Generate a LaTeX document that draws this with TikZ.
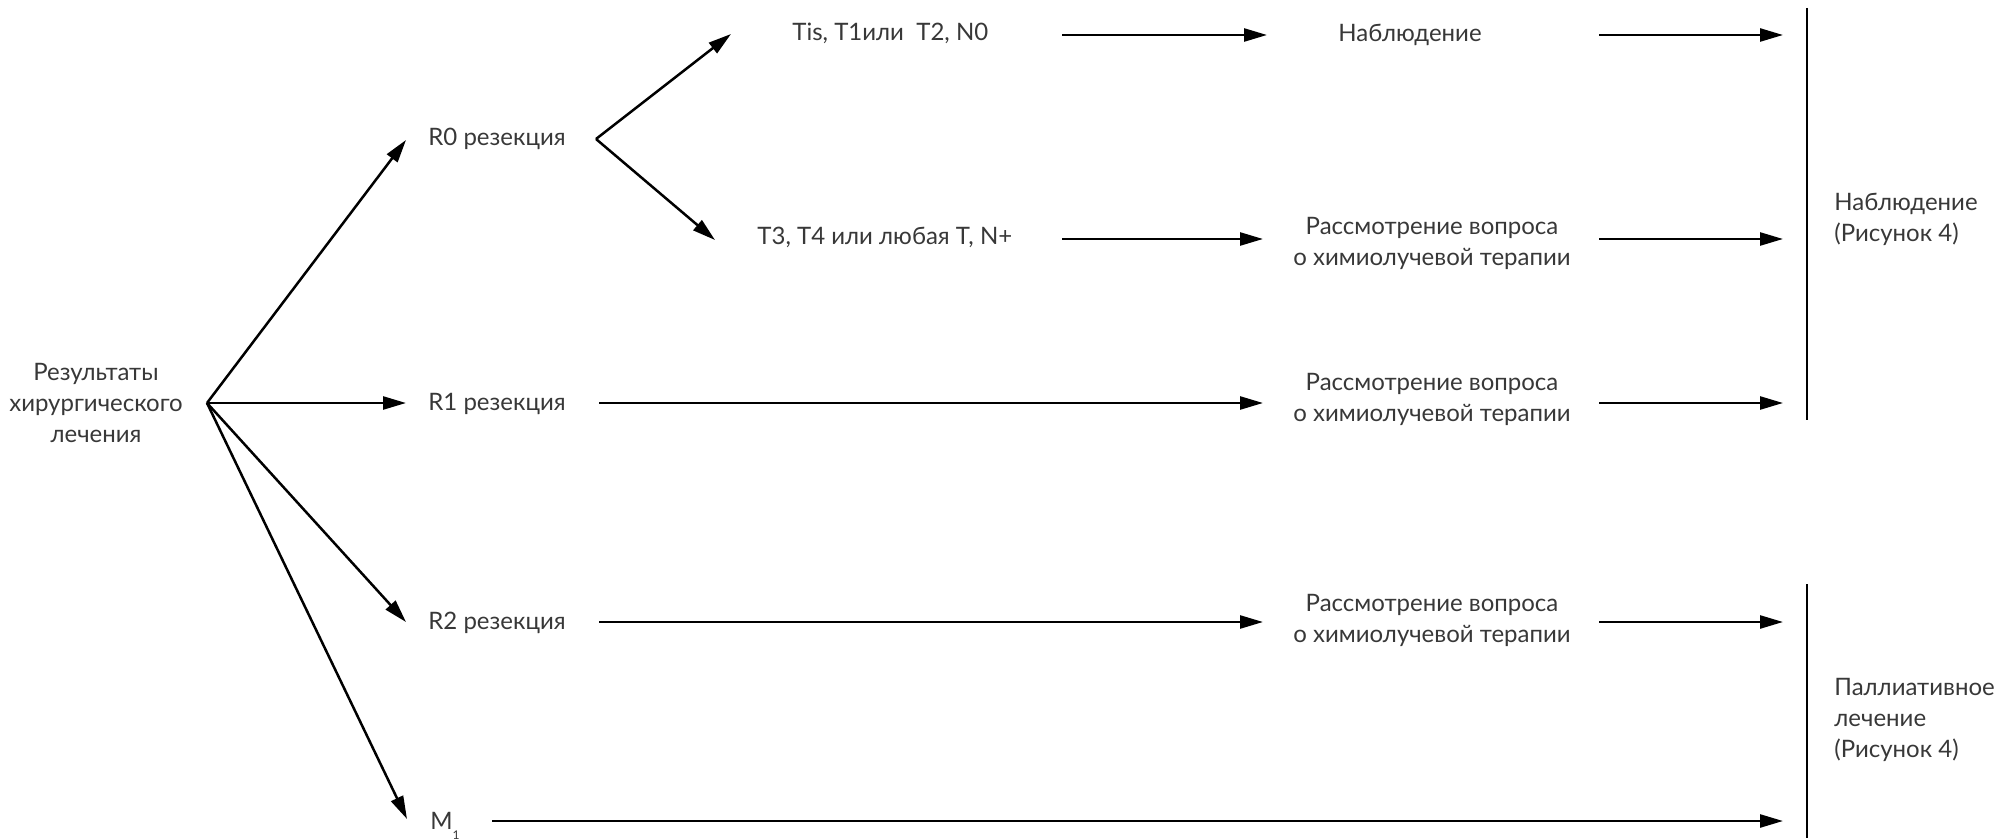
\documentclass[tikz,border=0pt]{standalone}
\usepackage{fontspec}
\setmainfont{Lato}
\usetikzlibrary{arrows.meta}
\begin{document}
\begin{tikzpicture}[x=0.5pt,y=-0.5pt,
  lbl/.style={inner sep=0pt, font=\fontsize{12}{15.5}\selectfont, text=black!78},
  arr/.style={line width=1.25pt, -{Triangle[length=11.5pt,width=6.5pt]}},
  bar/.style={line width=1.4pt}]
\useasboundingbox (0,0) rectangle (2011,839);
% nodes
\node[lbl, align=center] (root) at (96,403) {Результаты\\хирургического\\лечения};
\coordinate (apex) at (207,403);
\node[lbl, anchor=base west] (r0) at (428,146) {R0 резекция};
\node[lbl, anchor=base west] (r1) at (428,410) {R1 резекция};
\node[lbl, anchor=base west] (r2) at (428,629) {R2 резекция};
\node[lbl, anchor=base west] (m1) at (430,829) {M\raisebox{-0.9ex}{\fontsize{6}{6}\selectfont 1}};
\node[lbl, anchor=base west] (tis) at (792,41) {Tis, T1или\ \ T2, N0};
\node[lbl, anchor=base west] (t3) at (757,245) {T3, T4 или любая T, N+};
\node[lbl, anchor=base] (obs) at (1410,42) {Наблюдение};
\node[lbl, align=center] (ch1) at (1432,243) {Рассмотрение вопроса\\о химиолучевой терапии};
\node[lbl, align=center] (ch2) at (1432,399) {Рассмотрение вопроса\\о химиолучевой терапии};
\node[lbl, align=center] (ch3) at (1432,620) {Рассмотрение вопроса\\о химиолучевой терапии};
\node[lbl, align=left, anchor=west] (out1) at (1834,219) {Наблюдение\\(Рисунок 4)};
\node[lbl, align=left, anchor=west] (out2) at (1834,720) {Паллиативное\\лечение\\(Рисунок 4)};
% bars
\coordinate (b1t) at (1807,8);
\coordinate (b1b) at (1807,420);
\coordinate (b2t) at (1807,584);
\coordinate (b2b) at (1807,838);
\draw[bar] (b1t) -- (b1b);
\draw[bar] (b2t) -- (b2b);
% coordinates for arrow ends
\coordinate (r0i) at (406,140);
\coordinate (r1i) at (406,403);
\coordinate (r2i) at (406,622);
\coordinate (m1i) at (407,819);
\coordinate (fork) at (596,139);
\coordinate (tisi) at (731,34);
\coordinate (t3i) at (715,240);
\coordinate (tiso) at (1062,35);
\coordinate (obsi) at (1267,35);
\coordinate (obso) at (1599,35);
\coordinate (t3o) at (1062,239);
\coordinate (ch1i) at (1263,239);
\coordinate (ch1o) at (1599,239);
\coordinate (r1o) at (599,403);
\coordinate (ch2i) at (1263,403);
\coordinate (ch2o) at (1599,403);
\coordinate (r2o) at (599,622);
\coordinate (ch3i) at (1263,622);
\coordinate (ch3o) at (1599,622);
\coordinate (m1o) at (492,821);
\coordinate (e1) at (1783,35);
\coordinate (e2) at (1783,239);
\coordinate (e3) at (1783,403);
\coordinate (e4) at (1783,622);
\coordinate (e5) at (1783,821);
% connectors
\draw[arr] (apex) -- (r0i);
\draw[arr] (apex) -- (r1i);
\draw[arr] (apex) -- (r2i);
\draw[arr] (apex) -- (m1i);
\draw[arr] (fork) -- (tisi);
\draw[arr] (fork) -- (t3i);
\draw[arr] (tiso) -- (obsi);
\draw[arr] (obso) -- (e1);
\draw[arr] (t3o) -- (ch1i);
\draw[arr] (ch1o) -- (e2);
\draw[arr] (r1o) -- (ch2i);
\draw[arr] (ch2o) -- (e3);
\draw[arr] (r2o) -- (ch3i);
\draw[arr] (ch3o) -- (e4);
\draw[arr] (m1o) -- (e5);
\end{tikzpicture}
\end{document}
